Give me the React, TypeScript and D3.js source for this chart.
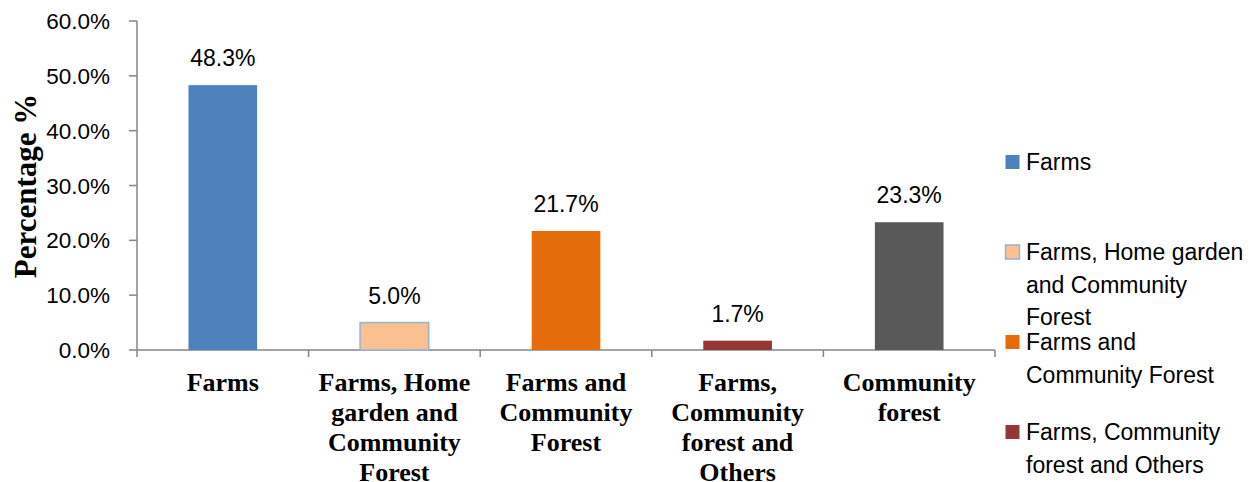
import React from "react";
import * as d3 from "d3";

const categories = [
  "Farms",
  "Farms, Home garden and Community Forest",
  "Farms and Community Forest",
  "Farms, Community forest and Others",
  "Community forest",
];
const axisLabelLines = [
  ["Farms"],
  ["Farms, Home", "garden and", "Community", "Forest"],
  ["Farms and", "Community", "Forest"],
  ["Farms,", "Community", "forest and", "Others"],
  ["Community", "forest"],
];
const values = [48.3, 5.0, 21.7, 1.7, 23.3];
const colors = ["#4F81BD", "#FAC090", "#E46C0A", "#953735", "#595959"];
const strokes = ["none", "#95B3D7", "none", "none", "none"];
const yTicks = [0, 10, 20, 30, 40, 50, 60];
const legendLines = [
  ["Farms"],
  ["Farms, Home garden", "and Community", "Forest"],
  ["Farms and", "Community Forest"],
  ["Farms, Community", "forest and Others"],
];
const legendY = [162, 252, 342, 432];

export default function App() {
  const W = 1254, H = 482;
  const x0 = 137, x1 = 995, yTop = 21, yBot = 350;
  const x = d3.scaleBand<string>().domain(categories).range([x0, x1]).paddingInner(0.6).paddingOuter(0.3);
  const xb = d3.scaleBand<string>().domain(categories).range([x0, x1]);
  const y = d3.scaleLinear().domain([0, 60]).range([yBot, yTop]);
  const axisColor = "#868686";
  const sans = "'Liberation Sans', Arial, sans-serif";
  const serif = "'Liberation Serif', 'Times New Roman', serif";
  return (
    <svg width={W} height={H} style={{ position: "absolute", left: 0, top: 0 }}>
      <rect width={W} height={H} fill="#fff" />
      {/* y axis */}
      <line x1={x0} x2={x0} y1={yTop} y2={yBot + 7} stroke={axisColor} strokeWidth={1.5} />
      {yTicks.map((t) => (
        <g key={t}>
          <line x1={x0 - 8} x2={x0} y1={y(t)} y2={y(t)} stroke={axisColor} strokeWidth={1.5} />
          <text x={110} y={y(t)} dy="0.36em" textAnchor="end" fontFamily={sans} fontSize={22.5} fill="#000">
            {t.toFixed(1)}%
          </text>
        </g>
      ))}
      {/* x axis */}
      <line x1={x0} x2={x1} y1={yBot} y2={yBot} stroke={axisColor} strokeWidth={1.5} />
      {categories.map((c) => (
        <line key={c} x1={xb(c)! + xb.bandwidth()} x2={xb(c)! + xb.bandwidth()} y1={yBot} y2={yBot + 7} stroke={axisColor} strokeWidth={1.5} />
      ))}
      {/* bars */}
      {categories.map((c, i) => (
        <g key={c}>
          <rect
            x={x(c)!}
            y={y(values[i])}
            width={x.bandwidth()}
            height={yBot - y(values[i])}
            fill={colors[i]}
            stroke={strokes[i]}
            strokeWidth={strokes[i] === "none" ? 0 : 1.5}
          />
          <text x={x(c)! + x.bandwidth() / 2} y={y(values[i]) - 19} textAnchor="middle" fontFamily={sans} fontSize={23} fill="#000">
            {values[i].toFixed(1)}%
          </text>
        </g>
      ))}
      {/* category labels */}
      {categories.map((c, i) => (
        <text key={c} textAnchor="middle" fontFamily={serif} fontWeight="bold" fontSize={26} fill="#000">
          {axisLabelLines[i].map((l, j) => (
            <tspan key={j} x={xb(c)! + xb.bandwidth() / 2} y={391 + j * 30}>
              {l}
            </tspan>
          ))}
        </text>
      ))}
      {/* y title */}
      <text
        transform={`translate(36, ${186}) rotate(-90)`}
        textAnchor="middle"
        fontFamily={serif}
        fontWeight="bold"
        fontSize={31}
        fill="#000"
      >
        Percentage %
      </text>
      {/* legend */}
      {legendLines.map((lines, i) => (
        <g key={i}>
          <rect
            x={1005.5}
            y={legendY[i] - 7}
            width={14}
            height={14}
            fill={colors[i]}
            stroke={strokes[i]}
            strokeWidth={strokes[i] === "none" ? 0 : 1.5}
          />
          <text fontFamily={sans} fontSize={23} fill="#000">
            {lines.map((l, j) => (
              <tspan key={j} x={1026} y={legendY[i] + 8 + j * 32.5}>
                {l}
              </tspan>
            ))}
          </text>
        </g>
      ))}
    </svg>
  );
}
